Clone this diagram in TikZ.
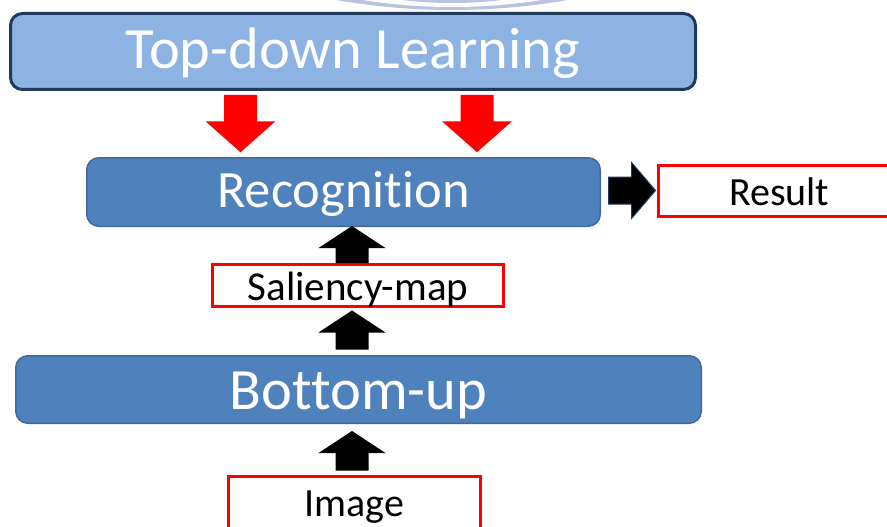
\documentclass[tikz,border=0pt]{standalone}
\usepackage{fontspec}
\setmainfont{Carlito}[Ligatures={NoCommon}]
\usetikzlibrary{calc}
\definecolor{lightblue}{HTML}{8DB3E2}
\definecolor{navyline}{HTML}{1F3A5F}
\definecolor{midblue}{HTML}{4F81BD}
\definecolor{midborder}{HTML}{41699A}
\definecolor{wmark}{HTML}{B8C2E2}
\tikzset{
  topbox/.style={draw=navyline, fill=lightblue, line width=3pt, rounded corners=12pt,
    text=white, inner sep=0pt, font=\fontsize{58.5}{62}\selectfont, text depth=0pt},
  bluebox/.style={draw=midborder, fill=midblue, line width=1.5pt, rounded corners=12pt,
    text=white, inner sep=0pt, text depth=0pt},
  redbox/.style={draw=red, fill=white, line width=3pt, text=black, inner sep=0pt,
    font=\fontsize{40}{44}\selectfont, text depth=0pt},
  reddown/.style={fill=red, draw=none, to path={
    ($(\tikztostart)+(-16.5,0)$) -- ($(\tikztotarget)+(-16.5,-31)$) -- ($(\tikztotarget)+(-35,-31)$)
    -- (\tikztotarget) -- ($(\tikztotarget)+(35,-31)$) -- ($(\tikztotarget)+(16.5,-31)$)
    -- ($(\tikztostart)+(16.5,0)$) -- cycle}},
  blackup/.style={fill=black, draw=none, to path={
    ($(\tikztostart)+(-16.5,0)$) -- ($(\tikztotarget)+(-16.5,22)$) -- ($(\tikztotarget)+(-33.5,22)$)
    -- (\tikztotarget) -- ($(\tikztotarget)+(33.5,22)$) -- ($(\tikztotarget)+(16.5,22)$)
    -- ($(\tikztostart)+(16.5,0)$) -- cycle}},
  blackright/.style={fill=black, draw=navyline, line width=1pt, line join=miter, to path={
    ($(\tikztostart)+(0,-13.5)$) -- ($(\tikztotarget)+(-24,-13.5)$) -- ($(\tikztotarget)+(-24,-28)$)
    -- (\tikztotarget) -- ($(\tikztotarget)+(-24,28)$) -- ($(\tikztotarget)+(-24,13.5)$)
    -- ($(\tikztostart)+(0,13.5)$) -- cycle}},
}
\begin{document}
\begin{tikzpicture}[x=1pt, y=-1pt]
  \useasboundingbox (0,0) rectangle (887,527);
  % faint watermark behind the top box
  \begin{scope}
    \clip (0,0) rectangle (887,20);
    \fill[wmark] (452,-656) circle[radius=666];
    \fill[white] (452,-560) circle[radius=567];
    \fill[wmark] (452,-400) circle[radius=403];
    \foreach \a in {-70,-64,-58,58,64,70}
      \draw[white, line width=3pt] (452,-100) -- ++(\a-90:200);
  \end{scope}

  % boxes
  \node[topbox, minimum width=685pt, minimum height=76pt, text height=35pt] (top) at (353,51.5) {Top-down Learning};
  \node[bluebox, minimum width=513.5pt, minimum height=68.5pt, text height=31pt,
        font=\fontsize{52.5}{56}\selectfont] (rec) at (343.5,192) {Recognition};
  \node[redbox, minimum width=241.5pt, minimum height=51pt, text height=28pt] (res) at (779.25,191) {Result};
  \node[redbox, minimum width=291pt, minimum height=42pt, text height=29pt,
        font=\fontsize{41}{45}\selectfont] (sal) at (358,285.5) {Saliency-map};
  \node[bluebox, minimum width=685.5pt, minimum height=67.5pt, text height=39pt,
        font=\fontsize{58.5}{62}\selectfont] (bu) at (358.5,389.5) {Bottom-up};
  \node[redbox, minimum width=252pt, minimum height=58.5pt, text height=22pt] (img) at (354.5,505.75) {Image};

  % arrow axes
  \coordinate (rx1) at (240.5,0);
  \coordinate (rx2) at (477,0);
  \coordinate (ux) at (352,0);
  \coordinate (hy) at (0,190.5);

  % red arrows
  \path[reddown] ($(top.south -| rx1)+(0,4)$) to ($(rec.north -| rx1)+(0,-4.75)$);
  \path[reddown] ($(top.south -| rx2)+(0,4)$) to ($(rec.north -| rx2)+(0,-4.75)$);

  % black arrows
  \path[blackright] ($(rec.east |- hy)+(7.5,0)$) to ($(res.west |- hy)+(-1.5,0)$);
  \path[blackup] (sal.north -| ux) to ($(rec.south -| ux)+(0,-1)$);
  \path[blackup] ($(bu.north -| ux)+(0,-5.5)$) to ($(sal.south -| ux)+(0,2.5)$);
  \path[blackup] ($(img.north -| ux)+(0,-4.5)$) to ($(bu.south -| ux)+(0,7)$);
\end{tikzpicture}
\end{document}
